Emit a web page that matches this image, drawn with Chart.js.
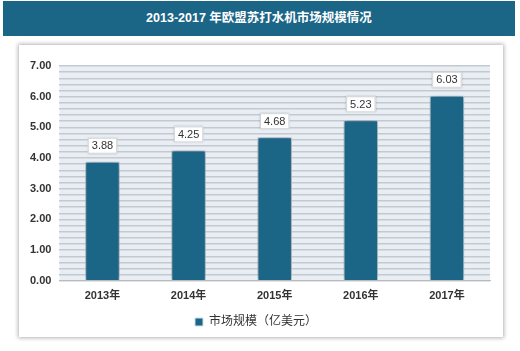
<!DOCTYPE html>
<html>
<head>
<meta charset="utf-8">
<script src="https://cdn.jsdelivr.net/npm/chart.js@4"></script>
<style>
	body { margin: 0; width: 520px; height: 351px; background: #fff; position: relative; overflow: hidden; font-family: "Liberation Sans", "Noto Sans CJK SC", sans-serif; }
	#banner { position: absolute; left: 3px; top: 1px; width: 512px; height: 35px; background: #1b6587; color: #fff; font-weight: bold; font-size: 12.5px; line-height: 35px; text-align: center; }
	#panel { position: absolute; left: 19px; top: 45px; width: 484px; height: 292px; background: #fff; box-shadow: 0 0 4px 1px rgba(0,0,0,0.3); }
	#wrap { position: absolute; left: 0; top: 0; width: 520px; height: 351px; }
</style>
</head>
<body>
<div id="banner">2013-2017 年欧盟苏打水机市场规模情况</div>
<div id="panel"></div>
<div id="wrap"><canvas id="chart"></canvas></div>
<script>
const colBar = "#1b6587";

const years = ["2013年", "2014年", "2015年", "2016年", "2017年"];
const marketSize = [3.88, 4.25, 4.68, 5.23, 6.03];
const seriesName = "市场规模（亿美元）";

const fontFamily = "'Liberation Sans', 'Noto Sans CJK SC', sans-serif";

// plot background
const plotBg = {
	id: "plotBg",
	beforeDraw(chart) {
		const { ctx, chartArea: a } = chart;
		ctx.save();
		ctx.fillStyle = "#e8eef4";
		ctx.fillRect(a.left, a.top, a.right - a.left, a.bottom - a.top);
		ctx.restore();
	},
};

// soft shadow under bars
const barShadow = {
	id: "barShadow",
	beforeDatasetDraw(chart) {
		const ctx = chart.ctx;
		ctx.save();
		ctx.shadowColor = "rgba(0,0,0,0.45)";
		ctx.shadowBlur = 6;
	},
	afterDatasetDraw(chart) {
		chart.ctx.restore();
	},
};

// value labels in white boxes
const valueBoxes = {
	id: "valueBoxes",
	afterDatasetsDraw(chart) {
		const ctx = chart.ctx;
		const meta = chart.getDatasetMeta(0);
		ctx.save();
		ctx.font = "11px " + fontFamily;
		ctx.textAlign = "center";
		ctx.textBaseline = "middle";
		meta.data.forEach((bar, i) => {
			const txt = marketSize[i].toFixed(2);
			const w = ctx.measureText(txt).width + 8;
			const h = 16;
			const x = bar.x - w / 2;
			const y = bar.y - 8 - h;
			ctx.shadowColor = "rgba(0,0,0,0.2)";
			ctx.shadowBlur = 2;
			ctx.fillStyle = "#fff";
			ctx.fillRect(x, y, w, h);
			ctx.shadowBlur = 0;
			ctx.strokeStyle = "#d0d4d8";
			ctx.lineWidth = 1;
			ctx.strokeRect(x + 0.5, y + 0.5, w - 1, h - 1);
			ctx.fillStyle = "#333";
			ctx.fillText(txt, bar.x, y + h / 2 + 0.5);
		});
		ctx.restore();
	},
};

new Chart(document.getElementById("chart"), {
	type: "bar",
	data: {
		labels: years,
		datasets: [
			{
				label: seriesName,
				data: marketSize,
				backgroundColor: colBar,
				borderColor: "#cfe0ea",
				borderWidth: 1,
				categoryPercentage: 0.8,
				barPercentage: 0.5,
			},
		],
	},
	options: {
		responsive: true,
		maintainAspectRatio: false,
		animation: false,
		layout: { padding: { left: 22, right: 30, top: 66, bottom: 13 } },
		plugins: {
			legend: {
				position: "bottom",
				labels: {
					boxWidth: 8,
					boxHeight: 8,
					padding: 12,
					color: "#333",
					font: { family: fontFamily, size: 12 },
				},
			},
			tooltip: { enabled: false },
		},
		scales: {
			x: {
				grid: { display: false },
				border: { color: "#b8bcc0" },
				ticks: {
					color: "#333",
					font: { family: fontFamily, size: 11, weight: "600" },
					padding: 1,
				},
			},
			y: {
				min: 0,
				max: 7,
				border: { display: false },
				grid: { color: "#c4c9ce", lineWidth: 1.5, drawTicks: false },
				ticks: {
					stepSize: 0.2,
					autoSkip: false,
					padding: 8,
					color: "#333",
					font: { family: fontFamily, size: 11, weight: "600" },
					callback: (v) => (Math.abs(v - Math.round(v)) < 1e-6 ? v.toFixed(2) : ""),
				},
			},
		},
	},
	plugins: [plotBg, barShadow, valueBoxes],
});
</script>
</body>
</html>
